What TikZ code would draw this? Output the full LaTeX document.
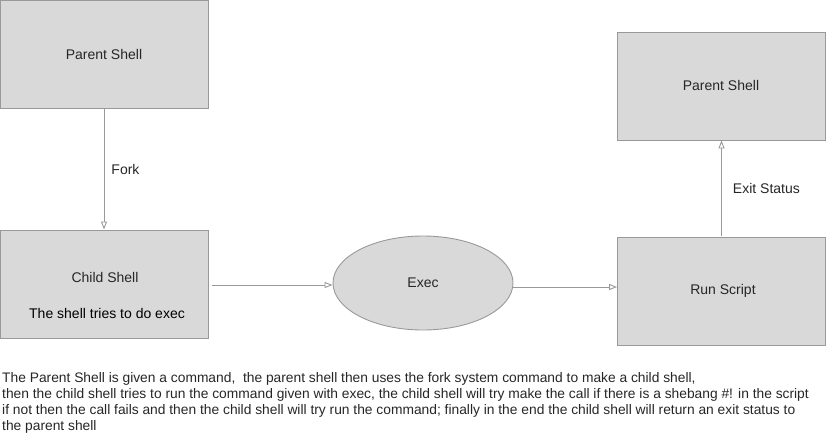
\documentclass[tikz,border=0pt]{standalone}
\usepackage{fontspec}
\setmainfont{Liberation Sans}
\usetikzlibrary{arrows.meta,shapes.geometric}
\definecolor{boxfill}{HTML}{D9D9D9}
\definecolor{boxline}{HTML}{999999}
\definecolor{txt}{HTML}{262626}
\tikzset{
  procbox/.style={draw=boxline, fill=boxfill, line width=0.9pt, minimum width=208pt, minimum height=108pt, inner sep=0pt, text=txt, font=\fontsize{14}{16}\selectfont},
  oval/.style={ellipse, draw=boxline, fill=boxfill, line width=0.9pt, minimum width=180pt, minimum height=94pt, inner sep=0pt, text=txt, font=\fontsize{14}{16}\selectfont},
  conn/.style={draw=boxline, line width=0.9pt, -{Triangle[open, length=8pt, width=6pt]}},
  lbl/.style={text=txt, font=\fontsize{14}{16}\selectfont, inner sep=0pt},
  note/.style={text=txt, font=\fontsize{13.8}{16}\selectfont, inner sep=0pt, anchor=base west}
}
\begin{document}
\begin{tikzpicture}[x=1pt, y=1pt]
\useasboundingbox (0,0) rectangle (826,-436);
\node[procbox] (p1) at (104,-54) {Parent Shell};
\node[procbox] (child) at (104,-284) {};
\node[lbl] (childt) at (105,-277) {Child Shell};
\node[lbl, text=black] (childs) at (107,-313) {The shell tries to do exec};
\node[oval] (exec) at (423,-283) {Exec};
\node[procbox] (run) at (721.5,-291) {};
\node[lbl] (runt) at (723,-291) {Run Script};
\node[procbox] (p2) at (721.5,-86) {};
\node[lbl] (p2t) at (721,-85) {Parent Shell};
\draw[conn] (p1.south) -- node[lbl, right=7pt] (fork) {Fork} (child.north);
\draw[conn, shorten <=4pt] ([yshift=-1pt]child.east) -- ([yshift=-1pt]child.east -| exec.west);
\draw[conn] ([yshift=-4pt]exec.east) -- ([yshift=-4pt]exec.east -| run.west);
\draw[conn, shorten <=1pt] (run.north) -- node[lbl, right=11pt] (exitl) {Exit Status} (p2.south);
\node[note] (n1) at (2,-382) {The Parent Shell is given a command,\ \ the parent shell then uses the fork system command to make a child shell,};
\node[note] (n2) at (2,-398) {then the child shell tries to run the command given with exec, the child shell will try make the call if there is a shebang \#! in the script};
\node[note] (n3) at (2,-414) {if not then the call fails and then the child shell will try run the command; finally in the end the child shell will return an exit status to};
\node[note] (n4) at (2,-430) {the parent shell};
\end{tikzpicture}
\end{document}
